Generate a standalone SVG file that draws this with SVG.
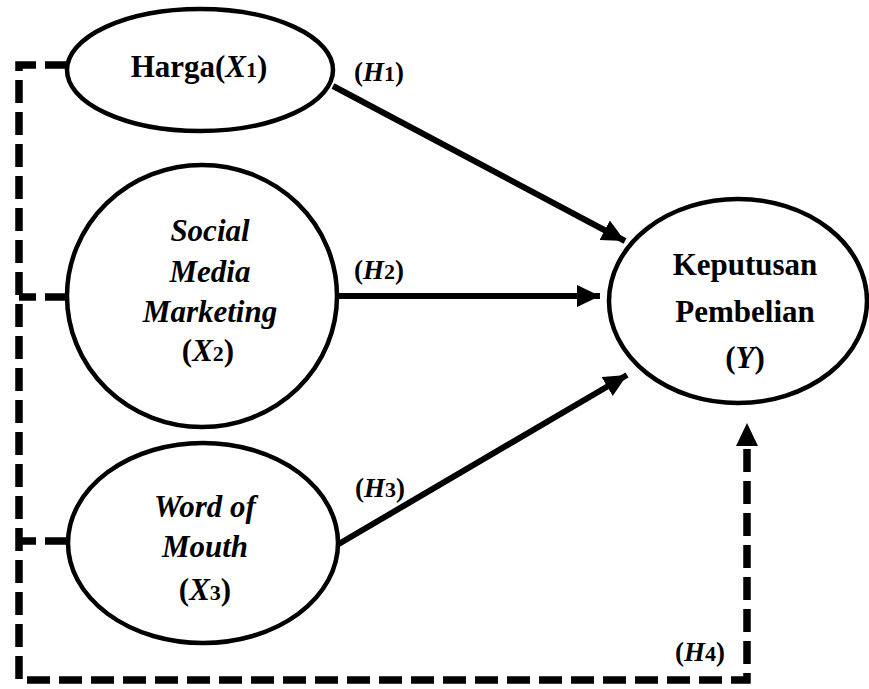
<svg xmlns="http://www.w3.org/2000/svg" width="869" height="689" viewBox="0 0 869 689">
<defs>
<marker id="ah" markerUnits="userSpaceOnUse" markerWidth="24" markerHeight="24" refX="23" refY="11" orient="auto">
<path d="M0,0 L23,11 L0,22 Z" fill="#000"/>
</marker>
</defs>
<style>
.node{fill:#fff;stroke:#000;stroke-width:4.5}
.t{font-family:"Liberation Serif","Times New Roman",serif;font-weight:bold;font-size:31px;text-anchor:middle;fill:#000}
.i{font-style:italic}
.lab{font-family:"Liberation Serif","Times New Roman",serif;font-weight:bold;font-size:27px;fill:#000}
.sub{font-size:22px;font-style:normal}
.solid{stroke:#000;stroke-width:6;fill:none}
.dash{stroke:#000;stroke-width:7.5;fill:none;stroke-dasharray:23 9}
</style>
<rect width="869" height="689" fill="#fff"/>
<g id="connectors">
<path class="dash" d="M68,65 H19 V680 H747 V445"/>
<path class="dash" d="M68,297 H19"/>
<path class="dash" d="M68,541 H19"/>
<path d="M747,423 L736,446 L758,446 Z" fill="#000"/>
<line class="solid" x1="333" y1="86" x2="625" y2="241" marker-end="url(#ah)"/>
<line class="solid" x1="338" y1="296" x2="600" y2="296" marker-end="url(#ah)"/>
<line class="solid" x1="337" y1="545" x2="627" y2="375" marker-end="url(#ah)"/>
<text class="lab" x="354" y="81">(<tspan class="i">H</tspan><tspan class="sub">1</tspan>)</text>
<text class="lab" x="354" y="279">(<tspan class="i">H</tspan><tspan class="sub">2</tspan>)</text>
<text class="lab" x="355" y="497">(<tspan class="i">H</tspan><tspan class="sub">3</tspan>)</text>
<text class="lab" x="675" y="661">(<tspan class="i">H</tspan><tspan class="sub">4</tspan>)</text>
</g>
<g id="harga">
<ellipse class="node" cx="200" cy="70" rx="133" ry="61"/>
<text class="t" x="199" y="77">Harga(<tspan class="i">X</tspan><tspan class="sub">1</tspan>)</text>
</g>
<g id="smm">
<ellipse class="node" cx="202" cy="296" rx="135" ry="131"/>
<text class="t i" x="210" y="241">Social</text>
<text class="t i" x="210" y="282">Media</text>
<text class="t i" x="210" y="322">Marketing</text>
<text class="t" x="208" y="361">(<tspan class="i">X</tspan><tspan class="sub">2</tspan>)</text>
</g>
<g id="wom">
<ellipse class="node" cx="203" cy="543" rx="135" ry="100"/>
<text class="t i" x="205" y="517">Word of</text>
<text class="t i" x="205" y="557">Mouth</text>
<text class="t" x="205" y="600">(<tspan class="i">X</tspan><tspan class="sub">3</tspan>)</text>
</g>
<g id="keputusan">
<ellipse class="node" cx="738" cy="301" rx="129" ry="102"/>
<text class="t" x="745" y="275">Keputusan</text>
<text class="t" x="745" y="322">Pembelian</text>
<text class="t" x="745" y="368">(<tspan class="i">Y</tspan>)</text>
</g>
</svg>
